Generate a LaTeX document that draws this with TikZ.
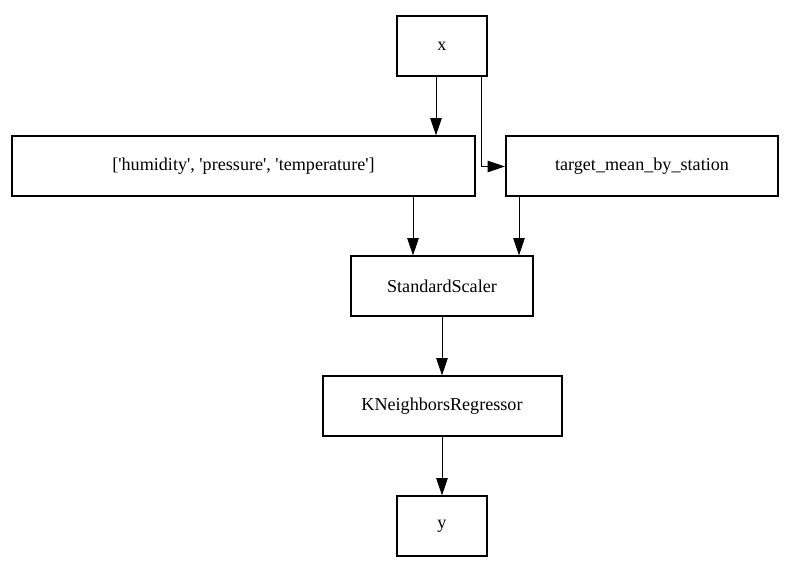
\documentclass[tikz,border=0pt]{standalone}
\usepackage{fontspec}
\setmainfont{Liberation Serif}
\usetikzlibrary{positioning,arrows.meta}
\newcommand{\sq}{\textquotesingle}

\begin{document}
\begin{tikzpicture}[
        on grid,node distance=90pt and 150pt,
        step box/.style={
          draw,line width=1.5pt,minimum height=45pt,inner sep=0pt,
          font=\fontsize{13.6}{16}\selectfont},
        every edge/.append style={-{Triangle[length=13pt,width=8.5pt]},line width=0.75pt}]
      \useasboundingbox (0,0) rectangle (595.5pt,-429.75pt);
      \node[step box, minimum width=67.5pt] (x) at (331.5pt,-34.875pt) {x};
      \node[step box, minimum width=347.25pt, below left=90pt and 148.875pt of x] (cols) {[\sq humidity\sq, \sq pressure\sq, \sq temperature\sq]};
      \node[step box, minimum width=204pt, below right=90pt and 150pt of x] (target) {target\_mean\_by\_station};
      \node[step box, minimum width=136.5pt, below=180pt of x] (scaler) {StandardScaler};
      \node[step box, minimum width=179.25pt, below=of scaler] (knn) {KNeighborsRegressor};
      \node[step box, minimum width=67.5pt, below=of knn] (y) {y};
      \path ([xshift=-4.5pt]x.south) edge ([xshift=-4.5pt]x.south |- cols.north);
      \draw[line width=0.75pt,-{Triangle[length=13pt,width=8.5pt]}]
        ([xshift=29.25pt]x.south) |- (target.west);
      \path ([xshift=-21.75pt]scaler.north |- cols.south) edge ([xshift=-21.75pt]scaler.north);
      \path ([xshift=57.75pt]scaler.north |- target.south) edge ([xshift=57.75pt]scaler.north);
      \path (scaler) edge (knn);
      \path (knn) edge (y);
    \end{tikzpicture}
\end{document}
